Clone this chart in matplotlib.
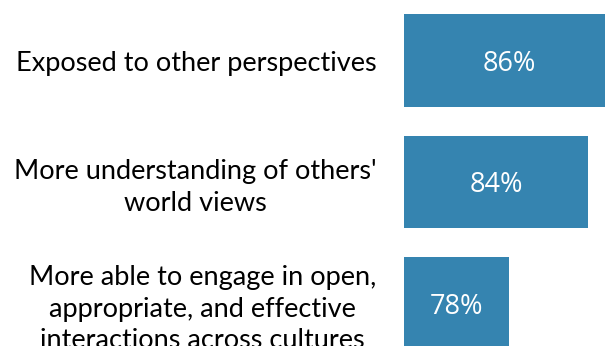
import matplotlib.pyplot as plt

categories = [
    "Exposed to other perspectives",
    "More understanding of others'\nworld views",
    "More able to engage in open,\nappropriate, and effective\ninteractions across cultures",
]
values = [86, 84, 78]
labels = ["86%", "84%", "78%"]

bar_color = "#3584b0"

fig = plt.figure(figsize=(6.05, 3.46), dpi=100)
ax = fig.add_axes([404 / 605, 0, 1 - 404 / 605, 1])

base = 70
ypos = range(len(values))
bars = ax.barh(ypos, [v - base for v in values], left=base,
               height=0.765, color=bar_color, edgecolor='none')

ax.set_xlim(base, base + 201 / 13.17)
ax.set_ylim(2.35, -0.498)

ax.set_yticks(list(ypos))
ax.set_yticklabels(categories, fontsize=19.5, family='Lato',
                   multialignment='center', linespacing=1.32)
ax.tick_params(axis='y', length=0, pad=20)
ax.set_xticks([])
for s in ax.spines.values():
    s.set_visible(False)

# value labels centred on each bar
for b, txt in zip(bars, labels):
    cx = b.get_x() + b.get_width() / 2
    cy = b.get_y() + b.get_height() / 2
    ax.text(cx, cy, txt, ha='center', va='center_baseline', color='white',
            fontsize=19.5, family='Open Sans', clip_on=False)

fig.savefig("out.png", dpi=100)
